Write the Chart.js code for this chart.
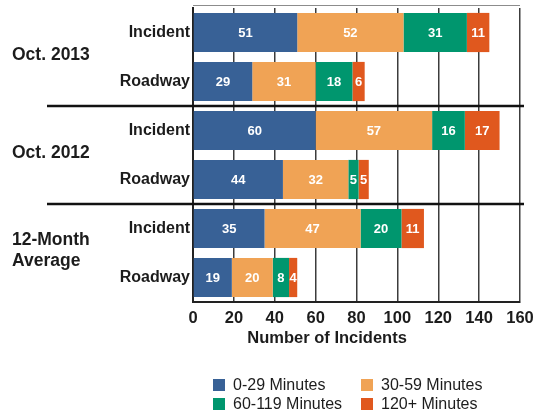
<!DOCTYPE html>
<html>
<head>
<meta charset="utf-8">
<script src="https://cdn.jsdelivr.net/npm/chart.js@4/dist/chart.umd.min.js"></script>
<style>
  html, body { margin: 0; padding: 0; background: #fff; }
  canvas { display: block; }
</style>
</head>
<body>
<canvas id="chart" width="534" height="414"></canvas>
<script>
// Incident clearance times, stacked by duration bucket
const groupNames = [['Oct. 2013'], ['Oct. 2012'], ['12-Month', 'Average']];
const rowLabels = ['Incident', 'Roadway', 'Incident', 'Roadway', 'Incident', 'Roadway'];
const seriesNames = ['0-29 Minutes', '30-59 Minutes', '60-119 Minutes', '120+ Minutes'];
const minutes0to29 = [51, 29, 60, 44, 35, 19];
const minutes30to59 = [52, 31, 57, 32, 47, 20];
const minutes60to119 = [31, 18, 16, 5, 20, 8];
const minutes120plus = [11, 6, 17, 5, 11, 4];
const xMin = 0;
const xMax = 160;
const xStep = 20;
const xTitle = 'Number of Incidents';

const seriesColors = ['#386196', '#F0A355', '#00966E', '#E0581E'];
const FONT = '"Liberation Sans", Arial, sans-serif';
const INK = '#1c1c1c';

// White value labels centred inside each stacked segment
const segmentLabels = {
  id: 'segmentLabels',
  afterDatasetsDraw(chart) {
    const ctx = chart.ctx;
    ctx.save();
    ctx.font = 'bold 13px ' + FONT;
    ctx.fillStyle = '#ffffff';
    ctx.textAlign = 'center';
    ctx.textBaseline = 'middle';
    chart.data.datasets.forEach((ds, di) => {
      chart.getDatasetMeta(di).data.forEach((bar, i) => {
        const p = bar.getProps(['x', 'y', 'base'], true);
        ctx.fillText(String(ds.data[i]), (p.x + p.base) / 2, p.y + 0.5);
      });
    });
    ctx.restore();
  }
};

// Group captions, separators, frame top, axis title and legend
const decorations = {
  id: 'decorations',
  afterDraw(chart) {
    const { ctx, chartArea: a } = chart;
    const y = chart.scales.y;
    const px = v => y.getPixelForValue(v);
    ctx.save();

    // frame top edge
    ctx.strokeStyle = '#8c8c8c';
    ctx.lineWidth = 1;
    ctx.beginPath();
    ctx.moveTo(a.left, 5.5);
    ctx.lineTo(a.right, 5.5);
    ctx.stroke();

    // separators between groups
    ctx.strokeStyle = '#111';
    ctx.lineWidth = 2.5;
    for (let g = 1; g < groupNames.length; g++) {
      const sy = (px(2 * g - 1) + px(2 * g)) / 2;
      ctx.beginPath();
      ctx.moveTo(47, sy);
      ctx.lineTo(a.right + 4, sy);
      ctx.stroke();
    }

    // group captions
    ctx.fillStyle = INK;
    ctx.font = 'bold 17.5px ' + FONT;
    ctx.textAlign = 'left';
    ctx.textBaseline = 'middle';
    groupNames.forEach((lines, g) => {
      const c = (px(2 * g) + px(2 * g + 1)) / 2 - 2;
      const lh = 21;
      lines.forEach((t, k) => {
        ctx.fillText(t, 12, c + (k - (lines.length - 1) / 2) * lh);
      });
    });

    // x axis title
    ctx.font = 'bold 16.5px ' + FONT;
    ctx.textAlign = 'center';
    ctx.fillText(xTitle, a.left + (a.right - a.left) * 0.41, 338);

    // legend, two columns
    ctx.font = '16px ' + FONT;
    ctx.textAlign = 'left';
    const cols = [213, 361];
    const rows = [385, 404];
    chart.data.datasets.forEach((ds, i) => {
      const bx = cols[i % 2];
      const by = rows[Math.floor(i / 2)];
      ctx.fillStyle = ds.backgroundColor;
      ctx.fillRect(bx, by - 6, 12, 12);
      ctx.fillStyle = INK;
      ctx.fillText(ds.label, bx + 20, by + 0.5);
    });

    ctx.restore();
  }
};

const seriesData = [minutes0to29, minutes30to59, minutes60to119, minutes120plus];

new Chart(document.getElementById('chart'), {
  type: 'bar',
  data: {
    labels: rowLabels,
    datasets: seriesData.map((d, i) => ({
      label: seriesNames[i],
      data: d,
      backgroundColor: seriesColors[i],
      borderWidth: 0,
      barPercentage: 0.8,
      categoryPercentage: 1.0
    }))
  },
  options: {
    indexAxis: 'y',
    responsive: false,
    animation: false,
    devicePixelRatio: 1,
    layout: { padding: { top: 8, right: 14, left: 0, bottom: 0 } },
    plugins: {
      legend: { display: false },
      tooltip: { enabled: false }
    },
    scales: {
      x: {
        type: 'linear',
        stacked: true,
        min: xMin,
        max: xMax,
        ticks: {
          stepSize: xStep,
          color: INK,
          padding: 7,
          font: { family: FONT, size: 16.5, weight: 'bold' }
        },
        grid: { color: '#3c3c3c', lineWidth: 1.5, drawTicks: false },
        border: { display: true, color: '#222', width: 2 },
        afterFit(s) {
          s.height = 112;
          s.paddingLeft = 0;
          s.paddingRight = 0;
        }
      },
      y: {
        type: 'category',
        stacked: true,
        ticks: {
          color: INK,
          padding: 3,
          font: { family: FONT, size: 16, weight: 'bold' }
        },
        grid: { display: false, drawTicks: false },
        border: { display: true, color: '#222', width: 2 },
        afterFit(s) {
          s.width = 193;
          s.paddingTop = 0;
          s.paddingBottom = 0;
        }
      }
    }
  },
  plugins: [segmentLabels, decorations]
});
</script>
</body>
</html>
